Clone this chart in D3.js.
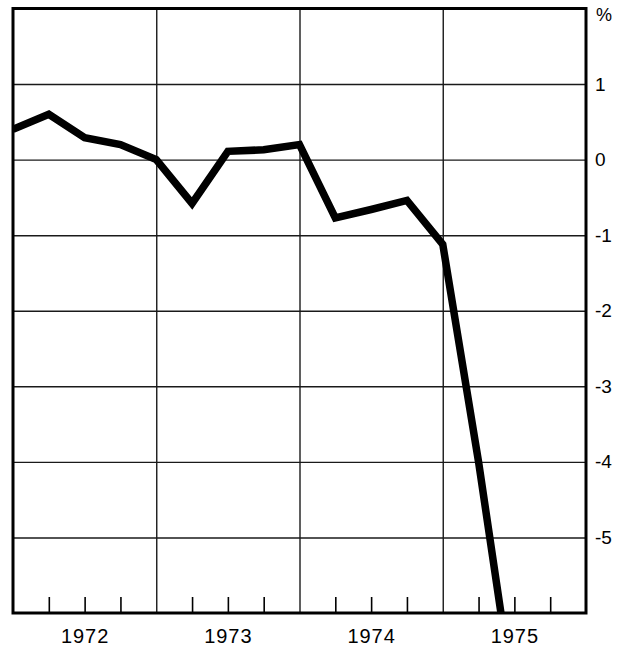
<!DOCTYPE html>
<html>
<head>
<meta charset="utf-8">
<script src="https://cdn.jsdelivr.net/npm/d3@7/dist/d3.min.js"></script>
<style>
  html, body { margin: 0; padding: 0; background: #fff; }
  svg { display: block; }
  text { font-family: "Liberation Sans", Arial, Helvetica, sans-serif; fill: #000; }
</style>
</head>
<body>
<svg id="chart" width="637" height="648"></svg>
<script>
// ---- data (quarterly, % change) ----
const periods = [1972.0, 1972.25, 1972.5, 1972.75,
                 1973.0, 1973.25, 1973.5, 1973.75,
                 1974.0, 1974.25, 1974.5, 1974.75,
                 1975.0, 1975.25, 1975.5];
const values  = [0.40, 0.60, 0.29, 0.20,
                 0.00, -0.58, 0.11, 0.13,
                 0.20, -0.77, -0.66, -0.54,
                 -1.12, -4.0, -7.2];
const yearLabels = ["1972", "1973", "1974", "1975"];
const yTicks = [1, 0, -1, -2, -3, -4, -5];
const yUnit = "%";

// ---- layout ----
const svg = d3.select("#chart");
const L = 13, R = 586, T = 8.5, B = 613;

const x = d3.scaleLinear().domain([1972, 1976]).range([L, R]);
const y = d3.scaleLinear().domain([-6, 2]).range([B, T]);

const ink = "#000";

// horizontal gridlines
svg.append("g")
  .attr("transform", `translate(${L},0)`)
  .call(d3.axisLeft(y).tickValues(yTicks).tickSize(-(R - L)).tickFormat(""))
  .call(g => g.select(".domain").remove())
  .call(g => g.selectAll("line").attr("stroke", "#1a1a1a").attr("stroke-width", 1.4));

// vertical gridlines at year boundaries
const yearBounds = yearLabels.slice(1).map(d => +d);
svg.append("g")
  .attr("transform", `translate(0,${B})`)
  .call(d3.axisBottom(x).tickValues(yearBounds).tickSize(-(B - T)).tickFormat(""))
  .call(g => g.select(".domain").remove())
  .call(g => g.selectAll("line").attr("stroke", "#1a1a1a").attr("stroke-width", 1.4));

// quarter ticks along the bottom
const quarterTicks = [];
yearLabels.forEach(yr => [0.25, 0.5, 0.75].forEach(q => quarterTicks.push(+yr + q)));
svg.append("g")
  .attr("transform", `translate(0,${B})`)
  .call(d3.axisBottom(x).tickValues(quarterTicks).tickSize(-16).tickFormat(""))
  .call(g => g.select(".domain").remove())
  .call(g => g.selectAll("line").attr("stroke", ink).attr("stroke-width", 1.6));

// year labels (centred on mid-year)
svg.append("g")
  .attr("transform", `translate(0,${B})`)
  .call(d3.axisBottom(x).tickValues(yearLabels.map(d => +d + 0.5)).tickSize(0).tickPadding(16)
        .tickFormat((d, i) => yearLabels[i]))
  .call(g => g.select(".domain").remove())
  .call(g => g.selectAll("text")
    .attr("font-size", 20)
    .attr("letter-spacing", 1)
    .attr("fill", ink)
    .attr("font-family", "'Liberation Sans', Arial, sans-serif"));

// right axis labels
svg.append("g")
  .attr("transform", `translate(${R},0)`)
  .call(d3.axisRight(y).tickValues(yTicks).tickSize(0).tickPadding(9)
        .tickFormat(d => (d < 0 ? "-" : "") + Math.abs(d)))
  .call(g => g.select(".domain").remove())
  .call(g => g.selectAll("text")
    .attr("font-size", 19)
    .attr("fill", ink)
    .attr("font-family", "'Liberation Sans', Arial, sans-serif"));

svg.append("text")
  .attr("x", R + 10).attr("y", 21)
  .attr("font-size", 18)
  .attr("fill", ink)
  .text(yUnit);

// clip for data line
svg.append("clipPath").attr("id", "plotclip")
  .append("rect").attr("x", L).attr("y", T).attr("width", R - L).attr("height", B - T);

const line = d3.line()
  .x((d, i) => x(periods[i]))
  .y(d => y(d));

svg.append("path")
  .datum(values)
  .attr("clip-path", "url(#plotclip)")
  .attr("d", line)
  .attr("fill", "none")
  .attr("stroke", ink)
  .attr("stroke-width", 7.5)
  .attr("stroke-linejoin", "miter")
  .attr("stroke-miterlimit", 10);

// frame
svg.append("rect")
  .attr("x", L).attr("y", T)
  .attr("width", R - L).attr("height", B - T)
  .attr("fill", "none")
  .attr("stroke", ink)
  .attr("stroke-width", 3);
</script>
</body>
</html>
